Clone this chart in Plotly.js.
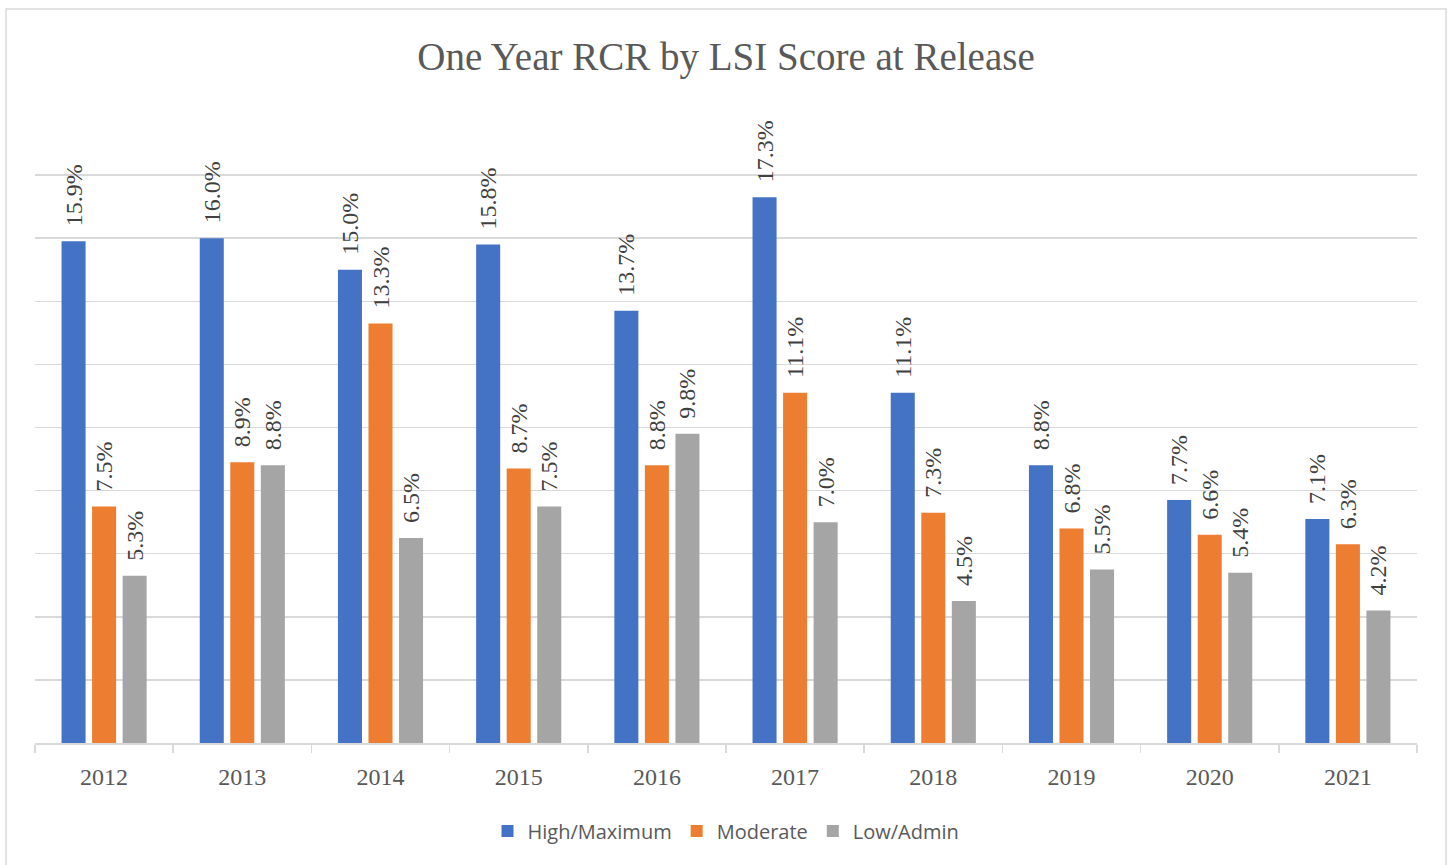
<!DOCTYPE html>
<html>
<head>
<meta charset="utf-8">
<script src="https://cdn.plot.ly/plotly-3.0.1.min.js"></script>
<style>html,body{margin:0;padding:0;background:#fff;}#chart{width:1449px;height:865px;}</style>
</head>
<body>
<div id="chart"></div>
<script>
const years = ['2012','2013','2014','2015','2016','2017','2018','2019','2020','2021'];
const highMax = [15.9, 16.0, 15.0, 15.8, 13.7, 17.3, 11.1, 8.8, 7.7, 7.1];
const moderate = [7.5, 8.9, 13.3, 8.7, 8.8, 11.1, 7.3, 6.8, 6.6, 6.3];
const lowAdmin = [5.3, 8.8, 6.5, 7.5, 9.8, 7.0, 4.5, 5.5, 5.4, 4.2];
const seriesNames = ['High/Maximum', 'Moderate', 'Low/Admin'];
const seriesColors = ['#4472C4', '#ED7D31', '#A5A5A5'];

const W = 1449, H = 865;
const M = {l: 35, r: 32, t: 112, b: 122};
const PW = W - M.l - M.r, PH = H - M.t - M.b;

const labelFont = {family: '"Liberation Serif", "DejaVu Serif", serif', size: 24, color: '#404040'};

const traces = [highMax, moderate, lowAdmin].map((vals, i) => ({
  type: 'bar',
  name: seriesNames[i],
  x: years,
  y: vals,
  marker: {color: seriesColors[i]},
  text: vals.map(v => '\u00A0\u00A0' + v.toFixed(1) + '%'),
  textposition: 'outside',
  textangle: -90,
  constraintext: 'none',
  cliponaxis: false,
  textfont: labelFont,
  hoverinfo: 'x+y'
}));

const layout = {
  width: W, height: H,
  margin: M,
  paper_bgcolor: '#ffffff',
  plot_bgcolor: '#ffffff',
  barmode: 'group',
  bargap: 0.337,
  bargroupgap: 0.213,
  showlegend: true,
  title: {
    text: 'One Year RCR by LSI Score at Release',
    font: {family: '"Liberation Serif", "DejaVu Serif", serif', size: 39, color: '#595959'},
    x: 0.5, xref: 'paper', xanchor: 'center',
    y: 1 - 56 / H, yref: 'container', yanchor: 'middle'
  },
  xaxis: {
    type: 'category',
    showgrid: false,
    showline: true,
    linecolor: '#d9d9d9',
    linewidth: 1.5,
    ticks: 'outside',
    tickson: 'boundaries',
    ticklen: 8,
    tickcolor: '#d9d9d9',
    tickwidth: 1.5,
    ticklabelstandoff: 12,
    tickfont: {family: '"Liberation Serif", "DejaVu Serif", serif', size: 24, color: '#595959'},
    zeroline: false,
    fixedrange: true
  },
  yaxis: {
    range: [0, 20],
    dtick: 2,
    showticklabels: false,
    showgrid: true,
    gridcolor: '#d9d9d9',
    gridwidth: 1.5,
    zeroline: false,
    showline: false,
    ticks: '',
    fixedrange: true
  },
  legend: {
    orientation: 'h',
    x: 0.5, xanchor: 'center',
    y: (M.b - (H - 831)) / -PH, yanchor: 'middle',
    font: {family: '"Open Sans", "Noto Sans", sans-serif', size: 20, color: '#595959'},
    itemwidth: 30,
    traceorder: 'normal',
    bgcolor: 'rgba(0,0,0,0)'
  },
  shapes: [{
    type: 'rect', xref: 'paper', yref: 'paper',
    x0: (6 - M.l) / PW, x1: (1446 - M.l) / PW,
    y0: -(H + 10 - (H - M.b)) / PH, y1: ((H - M.b) - 9) / PH,
    line: {color: '#d9d9d9', width: 1.5},
    fillcolor: 'rgba(0,0,0,0)',
    layer: 'below'
  }]
};

Plotly.newPlot('chart', traces, layout, {displayModeBar: false, staticPlot: true});
</script>
</body>
</html>
